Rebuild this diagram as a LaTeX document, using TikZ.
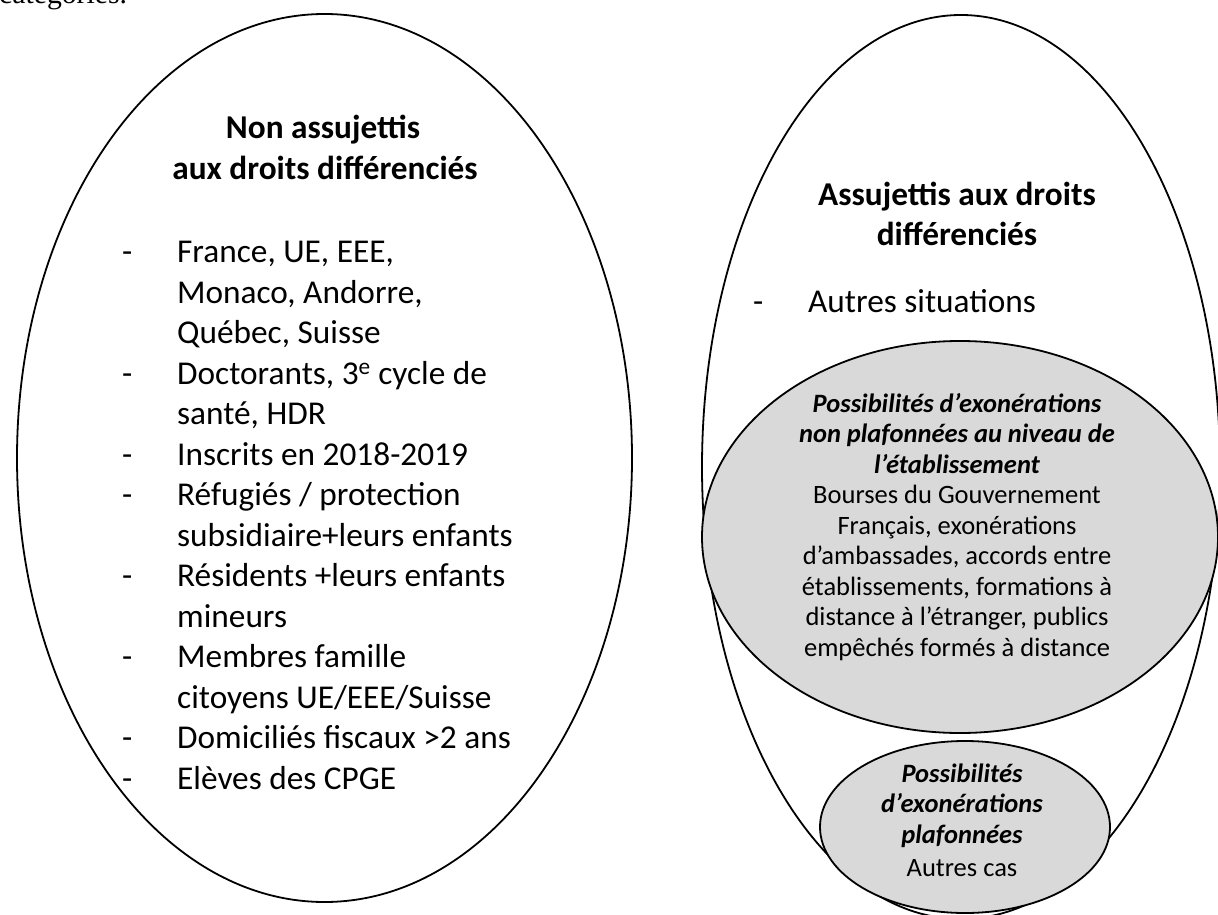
\documentclass[tikz,border=0pt]{standalone}
\usepackage{fontspec}
\setmainfont{Carlito}
\newfontfamily\docserif{Liberation Serif}
\usetikzlibrary{shapes.geometric}
\definecolor{greyfill}{HTML}{D9D9D9}
\tikzset{
  oval/.style={draw=black, line width=1.8pt, ellipse, inner sep=0pt},
  greyoval/.style={oval, fill=greyfill},
  bigtext/.style={font=\fontsize{33.3}{40.5}\selectfont, inner sep=0pt, anchor=base west},
  titletext/.style={font=\bfseries\fontsize{33.3}{40.5}\selectfont, inner sep=0pt, anchor=base},
  greyhead/.style={font=\bfseries\itshape\fontsize{26.5}{30.5}\selectfont, inner sep=0pt, anchor=base},
  greytext/.style={font=\fontsize{26.5}{30.5}\selectfont, inner sep=0pt, anchor=base},
}
\begin{document}
\begin{tikzpicture}[x=1pt,y=-1pt]
\useasboundingbox (0,0) rectangle (1218,915);
\clip (0,0) rectangle (1218,915);
% clipped text of the surrounding document
\node[font=\docserif\fontsize{29.7}{34}\selectfont, anchor=base west, inner sep=0pt] (cat) at (-1,4) {catégories.};
% ellipses
\node[oval, minimum width=615pt, minimum height=888pt] (L) at (324.5,458) {};
\node[oval, minimum width=518pt, minimum height=904pt] (R) at (961,467) {};
\node[greyoval, minimum width=516pt, minimum height=392pt] (M) at (960,537) {};
\node[greyoval, minimum width=290pt, minimum height=172pt] (S) at (965,827) {};
% left title
\node[titletext] (Lt1) at (323,139) {Non assujettis};
\node[titletext] (Lt2) at (325,179) {aux droits différenciés};
% left list
\foreach \k/\d/\t in {
  0/-/{France, UE, EEE,},
  1//{Monaco, Andorre,},
  2//{Québec, Suisse},
  3/-/{Doctorants, 3\textsuperscript{e} cycle de},
  4//{santé, HDR},
  5/-/{Inscrits en 2018-2019},
  6/-/{Réfugiés / protection},
  7//{subsidiaire+leurs enfants},
  8/-/{Résidents +leurs enfants},
  9//{mineurs},
  10/-/{Membres famille},
  11//{citoyens UE/EEE/Suisse},
  12/-/{Domiciliés fiscaux >2 ans},
  13/-/{Elèves des CPGE}}{
  \node[bigtext] (Ld\k) at (122,262.5+40.5*\k) {\d};
  \node[bigtext] (Li\k) at (177,262.5+40.5*\k) {\t};
}
% right title
\node[titletext] (Rt1) at (957,205) {Assujettis aux droits};
\node[titletext] (Rt2) at (957,245) {différenciés};
\node[bigtext] (Rd) at (753,312) {-};
\node[bigtext] (Ri) at (808,312) {Autres situations};
% middle grey ellipse text
\foreach \k/\t in {
  0/{Possibilités d’exonérations},
  1/{non plafonnées au niveau de},
  2/{l’établissement}}{
  \node[greyhead] (Mh\k) at (957,412+30.5*\k) {\t};
}
\foreach \k/\t in {
  3/{Bourses du Gouvernement},
  4/{Français, exonérations},
  5/{d’ambassades, accords entre},
  6/{établissements, formations à},
  7/{distance à l’étranger, publics},
  8/{empêchés formés à distance}}{
  \node[greytext] (Mt\k) at (957,412+30.5*\k) {\t};
}
% small grey ellipse text
\node[greyhead] (Sh0) at (962,782) {Possibilités};
\node[greyhead] (Sh1) at (962,812.5) {d’exonérations};
\node[greyhead] (Sh2) at (962,843) {plafonnées};
\node[greytext] (St) at (962,876) {Autres cas};
\end{tikzpicture}
\end{document}
